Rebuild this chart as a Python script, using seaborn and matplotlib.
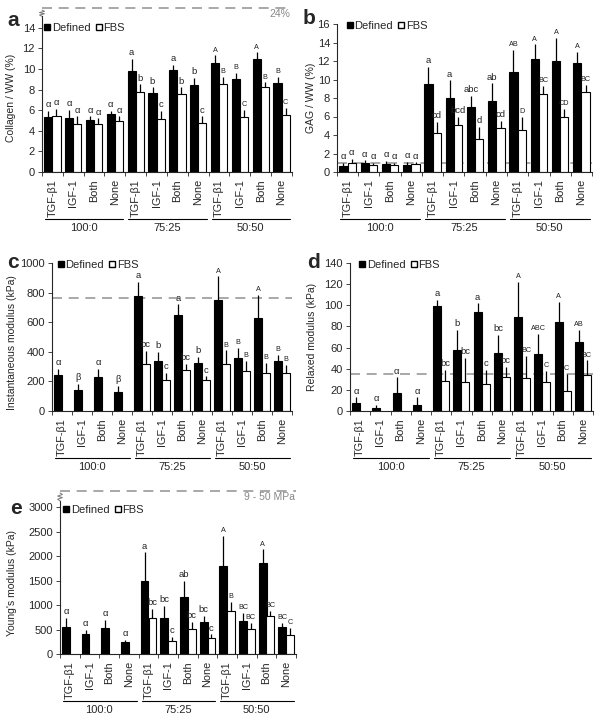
import numpy as np
import pandas as pd
import matplotlib
matplotlib.use("Agg")
import matplotlib.pyplot as plt
import matplotlib.transforms as mtransforms
from matplotlib.lines import Line2D
import seaborn as sns

# categories
groups = ["100:0", "75:25", "50:50"]
factors = ["TGF-β1", "IGF-1", "Both", "None"]
media = ["Defined", "FBS"]
nan = np.nan

# a: collagen / WW (%)
col_def = [5.3, 5.25, 5.0, 5.6, 9.8, 7.7, 9.9, 8.4, 10.6, 9.0, 11.0, 8.6]
col_def_err = [0.6, 0.75, 0.4, 0.3, 1.2, 0.5, 0.5, 0.7, 0.7, 0.6, 0.6, 0.6]
col_def_lab = ["α", "α", "α", "α", "a", "b", "a", "b", "A", "B", "A", "B"]
col_fbs = [5.4, 4.7, 4.65, 4.95, 7.75, 5.1, 7.55, 4.75, 8.5, 5.3, 8.2, 5.5]
col_fbs_err = [0.7, 0.7, 0.55, 0.45, 0.75, 0.8, 0.65, 0.65, 0.7, 0.7, 0.5, 0.7]
col_fbs_lab = ["α", "α", "α", "α", "b", "c", "b", "c", "B", "C", "B", "C"]

# b: GAG / WW (%)
gag_def = [0.6, 0.95, 0.85, 0.8, 9.5, 8.0, 7.0, 7.7, 10.8, 12.2, 12.0, 11.8]
gag_def_err = [0.4, 0.3, 0.35, 0.3, 1.9, 1.9, 1.2, 1.9, 2.4, 1.6, 2.5, 1.2]
gag_def_lab = ["α", "α", "α", "α", "a", "a", "abc", "ab", "AB", "A", "A", "A"]
gag_fbs = [0.95, 0.75, 0.75, 0.85, 4.2, 5.1, 3.6, 4.75, 4.5, 8.4, 6.0, 8.7]
gag_fbs_err = [0.45, 0.25, 0.25, 0.2, 1.2, 0.9, 1.3, 0.75, 1.5, 0.9, 0.8, 0.7]
gag_fbs_lab = ["α", "α", "α", "α", "cd", "bcd", "d", "cd", "D", "BC", "CD", "BC"]

# c: instantaneous modulus (kPa)
ins_def = [240, 140, 230, 130, 780, 340, 650, 325, 750, 360, 630, 340]
ins_def_err = [45, 45, 55, 40, 95, 60, 70, 40, 160, 65, 155, 40]
ins_def_lab = ["α", "β", "α", "β", "a", "b", "a", "b", "A", "B", "A", "B"]
ins_fbs = [nan, nan, nan, nan, 320, 210, 280, 210, 315, 270, 255, 255]
ins_fbs_err = [nan, nan, nan, nan, 85, 50, 40, 25, 95, 70, 70, 55]
ins_fbs_lab = [None, None, None, None, "bc", "c", "bc", "c", "B", "B", "B", "B"]

# d: relaxed modulus (kPa)
rel_def = [8, 2.5, 17, 6, 99, 58, 94, 55, 89, 54, 84, 65]
rel_def_err = [5, 3.5, 15, 7, 6, 19, 8, 17, 33, 19, 19, 12]
rel_def_lab = ["α", "α", "α", "α", "a", "b", "a", "bc", "A", "ABC", "A", "AB"]
rel_fbs = [nan, nan, nan, nan, 28, 27, 26, 32, 31, 27, 19, 34]
rel_fbs_err = [nan, nan, nan, nan, 11, 23, 13, 10, 21, 11, 16, 14]
rel_fbs_lab = [None, None, None, None, "bc", "bc", "c", "bc", "BC", "C", "C", "BC"]

# e: Young's modulus (kPa)
yng_def = [560, 410, 540, 250, 1490, 740, 1170, 650, 1790, 670, 1850, 560]
yng_def_err = [180, 90, 160, 40, 590, 240, 330, 130, 630, 170, 290, 80]
yng_def_lab = ["α", "α", "α", "α", "a", "bc", "ab", "bc", "A", "BC", "A", "BC"]
yng_fbs = [nan, nan, nan, nan, 740, 270, 510, 320, 870, 510, 780, 390]
yng_fbs_err = [nan, nan, nan, nan, 180, 80, 150, 80, 190, 130, 100, 150]
yng_fbs_lab = [None, None, None, None, "bc", "c", "bc", "c", "B", "BC", "BC", "C"]

cats = [g + "|" + f for g in groups for f in factors]

sns.set_style("ticks")
plt.rcParams["font.family"] = ["Liberation Sans", "DejaVu Sans"]
plt.rcParams["axes.linewidth"] = 0.8

W, H = 601, 723
fig = plt.figure(figsize=(W / 100, H / 100), dpi=100)


def px_axes(left, right, top, bottom):
    return fig.add_axes([left / W, 1 - bottom / H, (right - left) / W, (bottom - top) / H])


def draw_panel(ax, d_vals, d_err, d_lab, f_vals, f_err, f_lab, ylim, yticks, ylabel, leg_xy,
               label_xy):
    rows = []
    for i, c in enumerate(cats):
        rows.append({"cond": c, "medium": "Defined", "value": d_vals[i]})
        rows.append({"cond": c, "medium": "FBS", "value": f_vals[i]})
    df = pd.DataFrame(rows)
    sns.barplot(data=df, x="cond", y="value", hue="medium", order=cats, hue_order=media,
                palette={"Defined": "black", "FBS": "white"}, edgecolor="black",
                linewidth=0.8, width=0.78, gap=0, errorbar=None, legend=False, ax=ax)

    # error bars (upper only) and significance letters
    for cont, vals, errs, labs in zip(ax.containers, [d_vals, f_vals], [d_err, f_err], [d_lab, f_lab]):
        for bar in cont:
            xc = bar.get_x() + bar.get_width() / 2
            i = int(round(xc))
            if np.isnan(vals[i]):
                continue
            top = vals[i] + errs[i]
            ax.plot([xc, xc], [vals[i], top], color="black", lw=0.9, solid_capstyle="butt")
            if labs[i]:
                fs = 5.2 if labs[i].isupper() else 6.8
                ax.annotate(labs[i], (xc, top), xytext=(0, 1.2), textcoords="offset points",
                            ha="center", va="bottom", fontsize=fs, color="#222222")

    ax.set_ylim(*ylim)
    ax.set_yticks(yticks)
    ax.set_xlim(-0.5, 11.5)
    ax.set_ylabel(ylabel, fontsize=7.5)
    ax.yaxis.set_label_coords(*label_xy)
    ax.set_xlabel("")
    ax.set_xticks(range(12))
    ax.set_xticklabels(factors * 3, rotation=90, fontsize=7.8)
    ax.set_xticks(np.arange(-0.5, 12, 1), minor=True)
    ax.tick_params(axis="x", which="major", length=0, pad=5)
    ax.tick_params(axis="x", which="minor", length=3, width=0.6, direction="out")
    ax.tick_params(axis="y", labelsize=8, length=3, width=0.6, pad=2)
    sns.despine(ax=ax)

    # group brackets below tick labels
    tline = mtransforms.offset_copy(ax.get_xaxis_transform(), fig=fig, y=-47, units="dots")
    ttext = mtransforms.offset_copy(ax.get_xaxis_transform(), fig=fig, y=-56, units="dots")
    for k, g in enumerate(groups):
        ax.plot([4 * k - 0.35, 4 * k + 3.4], [0, 0], color="black", lw=0.8,
                transform=tline, clip_on=False)
        ax.text(4 * k + 1.5, 0, g, transform=ttext, ha="center", va="center", fontsize=8)

    handles = [Line2D([], [], ls="", marker="s", ms=4.5, mfc="black", mec="black"),
               Line2D([], [], ls="", marker="s", ms=4.5, mfc="white", mec="black")]
    ax.legend(handles, media, loc="center left", bbox_to_anchor=leg_xy, ncol=2, frameon=False,
              fontsize=8, handlelength=0.5, handletextpad=0.15, columnspacing=0.5,
              borderaxespad=0, borderpad=0)


def ref_line(ax, y):
    ax.axhline(y, color="#9a9a9a", lw=1.2, ls=(0, (6, 4)), zorder=0.5)


def broken_top(ax, y0, y1, ytop, text, txt_y):
    ax.spines["left"].set_bounds(0, y0)
    yt = ax.get_yaxis_transform()
    ys = np.linspace(y0, y1, 6)
    xs = [0, -0.01, 0.01, -0.01, 0.01, 0]
    ax.plot(xs, ys, color="#777777", lw=0.7, transform=yt, clip_on=False)
    ax.plot([0, 1], [ytop, ytop], color="#9a9a9a", lw=1.2, ls=(0, (6, 4)), transform=yt,
            clip_on=False)
    ax.text(0.995, txt_y, text, transform=yt, ha="right", va="center", fontsize=7.5,
            color="#888888")


# a
ax_a = px_axes(42, 292, 7, 172)
draw_panel(ax_a, col_def, col_def_err, col_def_lab, col_fbs, col_fbs_err, col_fbs_lab,
           (0, 16.0), range(0, 15, 2), "Collagen / WW (%)", (0.01, 0.875), (-0.104, 0.45))
broken_top(ax_a, 15.1, 15.7, 15.95, "24%", 15.3)

# b
ax_b = px_axes(337, 592, 24, 172)
draw_panel(ax_b, gag_def, gag_def_err, gag_def_lab, gag_fbs, gag_fbs_err, gag_fbs_lab,
           (0, 16), range(0, 17, 2), "GAG / WW (%)", (0.04, 0.985), (-0.082, 0.5))
ref_line(ax_b, 1.0)

# c
ax_c = px_axes(52, 292, 263, 411)
draw_panel(ax_c, ins_def, ins_def_err, ins_def_lab, ins_fbs, ins_fbs_err, ins_fbs_lab,
           (0, 1000), range(0, 1001, 200), "Instantaneous modulus (kPa)", (0.025, 0.985),
           (-0.146, 0.46))
ref_line(ax_c, 765)

# d
ax_d = px_axes(350, 593, 263, 411)
draw_panel(ax_d, rel_def, rel_def_err, rel_def_lab, rel_fbs, rel_fbs_err, rel_fbs_lab,
           (0, 140), range(0, 141, 20), "Relaxed modulus (kPa)", (0.04, 0.985),
           (-0.136, 0.5))
ref_line(ax_d, 35)

# e
ax_e = px_axes(60, 296, 490, 654)
draw_panel(ax_e, yng_def, yng_def_err, yng_def_lab, yng_fbs, yng_fbs_err, yng_fbs_lab,
           (0, 3350), range(0, 3001, 500), "Young's modulus (kPa)", (0.015, 0.88),
           (-0.182, 0.43))
broken_top(ax_e, 3130, 3290, 3320, "9 - 50 MPa", 3200)

# panel letters
for lab, x, y in [("a", 7, 20), ("b", 303, 19), ("c", 7, 262), ("d", 307, 262), ("e", 10, 509)]:
    fig.text(x / W, 1 - y / H, lab, ha="left", va="center", fontsize=15, fontweight="bold")

fig.savefig("out.png", dpi=100)
